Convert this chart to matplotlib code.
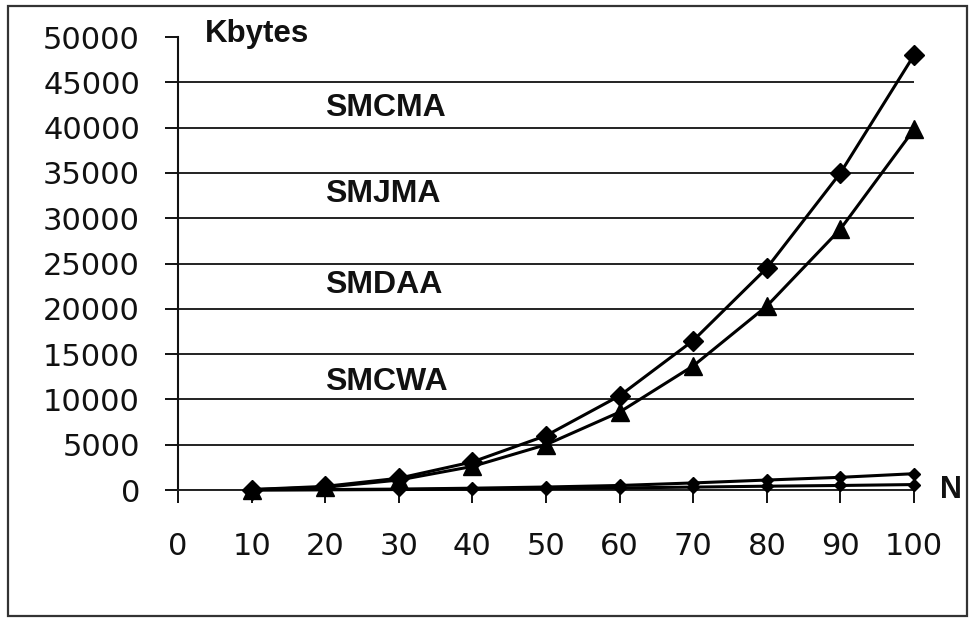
import matplotlib
matplotlib.use("Agg")
import matplotlib.pyplot as plt
from matplotlib.patches import Rectangle

# values (Kbytes vs N)
n_values = [10, 20, 30, 40, 50, 60, 70, 80, 90, 100]
smcma = [50, 400, 1300, 3100, 6000, 10400, 16500, 24500, 35000, 48000]
smjma = [40, 300, 1100, 2600, 5000, 8600, 13700, 20300, 28800, 39800]
smdaa = [10, 50, 100, 200, 330, 500, 780, 1100, 1400, 1800]
smcwa = [5, 20, 50, 100, 160, 230, 320, 420, 500, 600]

x_ticks = [0, 10, 20, 30, 40, 50, 60, 70, 80, 90, 100]
y_ticks = [0, 5000, 10000, 15000, 20000, 25000, 30000, 35000, 40000, 45000, 50000]

labels = ["SMCMA", "SMJMA", "SMDAA", "SMCWA"]
label_y = [42200, 32700, 22600, 11900]

fig = plt.figure(figsize=(9.7, 6.19), dpi=100)
ax = fig.add_axes([0.1835, 0.2084, 0.7588, 0.7318])
ax.set_xlim(0, 100)
ax.set_ylim(0, 50000)

ax.set_xticks(x_ticks)
ax.set_yticks(y_ticks)
ax.set_xticklabels([str(v) for v in x_ticks])
ax.set_yticklabels([str(v) for v in y_ticks])
ax.tick_params(axis="both", direction="out", length=9.4, width=1.4,
               color="#111111", labelsize=22, labelcolor="#111111")
ax.tick_params(axis="y", pad=18)
ax.tick_params(axis="x", pad=21)

ax.yaxis.grid(True, color="#222222", linewidth=1.4)
ax.get_ygridlines()[-1].set_visible(False)
ax.set_axisbelow(True)

for side in ["top", "right"]:
    ax.spines[side].set_visible(False)
ax.spines["left"].set_linewidth(1.5)
ax.spines["bottom"].set_linewidth(1.4)
ax.spines["left"].set_color("#111111")
ax.spines["bottom"].set_color("#222222")

line_kw = dict(color="black", linewidth=2.2, clip_on=False, zorder=3)
ax.plot(n_values, smcwa, marker="D", markersize=6, **line_kw)
ax.plot(n_values, smdaa, marker="D", markersize=6, **line_kw)
ax.plot(n_values, smjma, marker="^", markersize=13, **line_kw)
ax.plot(n_values, smcma, marker="D", markersize=10, **line_kw)

for name, yv in zip(labels, label_y):
    ax.text(20, yv, name, fontsize=23, fontweight="bold", family="Liberation Sans",
            va="center", ha="left", color="#111111")

ax.text(3.7, 50300, "Kbytes", fontsize=22.5, fontweight="bold", family="Liberation Sans",
        va="center", ha="left", color="#111111", clip_on=False)
ax.text(103.5, 0, "N", fontsize=22, fontweight="bold", family="Liberation Sans",
        va="center", ha="left", color="#111111", clip_on=False)

# outer chart frame
fig.patches.append(Rectangle((0.0082, 0.005), 0.989, 0.985, transform=fig.transFigure,
                             fill=False, edgecolor="#333333", linewidth=1.6))

fig.savefig("out.png", dpi=100, facecolor="white")
